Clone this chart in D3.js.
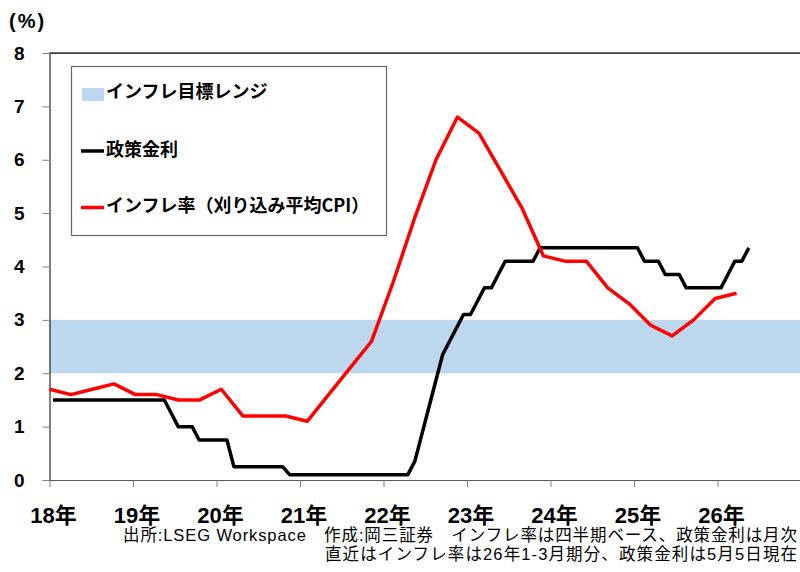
<!DOCTYPE html>
<html>
  <head>
    <meta charset="utf-8">
    <title>政策金利とインフレ率</title>
    <script src="https://d3js.org/d3.v7.min.js"></script>
    <style>
      body { margin: 0; background: #fff; }
      svg { display: block; }
      .num { font-family: "Liberation Sans", Arial, sans-serif; font-weight: bold; }
      .jp { font-family: "Liberation Sans", "Noto Sans CJK JP", sans-serif; }
    </style>
  </head>
  <body>
    <script>
      var width = 800;
      var height = 572;
      var margin = {top: 53, left: 49.5, right: -1, bottom: 92};

      // 四半期 (2018Q1 - 2026Q4) と 月次 (2018/1 - 2026/12) のカテゴリ
      var years = [2018, 2019, 2020, 2021, 2022, 2023, 2024, 2025, 2026];
      var quarters = [];
      var months = [];
      years.forEach(function(y) {
        [1, 2, 3, 4].forEach(function(q) { quarters.push(y + "Q" + q); });
        d3.range(1, 13).forEach(function(m) { months.push(y + "-" + m); });
      });

      // インフレ率（刈り込み平均CPI, 前年比 %）2018Q1 - 2026Q1
      var inflation = [1.7, 1.6, 1.7, 1.8, 1.6, 1.6, 1.5, 1.5,
                       1.7, 1.2, 1.2, 1.2, 1.1, 1.6, 2.1, 2.6,
                       3.7, 4.9, 6.0, 6.8, 6.5, 5.8, 5.1, 4.2,
                       4.1, 4.1, 3.6, 3.3, 2.9, 2.7, 3.0, 3.4,
                       3.5];

      // 政策金利 (%) 2018/1 - 2026/5
      var policyRate = [1.5, 1.5, 1.5, 1.5, 1.5, 1.5, 1.5, 1.5, 1.5, 1.5, 1.5, 1.5,
                        1.5, 1.5, 1.5, 1.5, 1.5, 1.25, 1.0, 1.0, 1.0, 0.75, 0.75, 0.75,
                        0.75, 0.75, 0.25, 0.25, 0.25, 0.25, 0.25, 0.25, 0.25, 0.25, 0.1, 0.1,
                        0.1, 0.1, 0.1, 0.1, 0.1, 0.1, 0.1, 0.1, 0.1, 0.1, 0.1, 0.1,
                        0.1, 0.1, 0.1, 0.1, 0.35, 0.85, 1.35, 1.85, 2.35, 2.6, 2.85, 3.1,
                        3.1, 3.35, 3.6, 3.6, 3.85, 4.1, 4.1, 4.1, 4.1, 4.1, 4.35, 4.35,
                        4.35, 4.35, 4.35, 4.35, 4.35, 4.35, 4.35, 4.35, 4.35, 4.35, 4.35, 4.35,
                        4.35, 4.1, 4.1, 4.1, 3.85, 3.85, 3.85, 3.6, 3.6, 3.6, 3.6, 3.6,
                        3.6, 3.85, 4.1, 4.1, 4.35];

      var targetRange = [2, 3];
      var yTicks = [0, 1, 2, 3, 4, 5, 6, 7, 8];

      var legendItems = ["インフレ目標レンジ", "政策金利", "インフレ率（刈り込み平均CPI）"];
      var notes = ["出所:LSEG Workspace　作成:岡三証券　インフレ率は四半期ベース、政策金利は月次",
                   "直近はインフレ率は26年1-3月期分、政策金利は5月5日現在"];
      var noteWidths = [674, 472];

      var svg = d3.select("body")
        .append("svg")
        .attr("width", width)
        .attr("height", height);

      var x0 = margin.left, x1 = width - margin.right;

      var xMonth = d3.scaleBand()
        .domain(months)
        .range([x0, x1]);

      var xQuarter = d3.scalePoint()
        .domain(quarters)
        .range([x0, x1]);

      var xYear = d3.scaleLinear()
        .domain([2018, 2027])
        .range([x0, x1]);

      var yScale = d3.scaleLinear()
        .domain([0, 8])
        .range([height - margin.bottom, margin.top]);

      // 目標レンジ
      svg.append("rect")
        .attr("x", x0)
        .attr("y", yScale(targetRange[1]))
        .attr("width", x1 - x0)
        .attr("height", yScale(targetRange[0]) - yScale(targetRange[1]))
        .attr("fill", "#BDD7EE");

      // 上枠
      svg.append("line")
        .attr("x1", x0).attr("x2", width)
        .attr("y1", yScale(8)).attr("y2", yScale(8))
        .attr("stroke", "#404040")
        .attr("stroke-width", 1.75);

      // x軸
      var xAxis = svg.append("g")
        .attr("transform", `translate(0,${height - margin.bottom})`)
        .call(d3.axisBottom(xYear)
          .tickValues(years)
          .tickSize(7)
          .tickSizeOuter(0)
          .tickFormat(function(d) { return String(d).slice(2) + "年"; }));
      xAxis.select(".domain").attr("stroke", "#595959");
      xAxis.selectAll(".tick line").attr("stroke", "#808080");
      xAxis.selectAll(".tick text")
        .attr("class", "jp")
        .attr("x", xMonth.bandwidth() / 2)
        .attr("y", 43)
        .attr("dy", 0)
        .attr("fill", "#000")
        .style("font-size", "22px")
        .style("font-weight", "bold");

      // y軸
      var yAxis = svg.append("g")
        .attr("transform", `translate(${x0},0)`)
        .call(d3.axisLeft(yScale)
          .tickValues(yTicks)
          .tickSize(7)
          .tickSizeOuter(0)
          .tickPadding(18));
      yAxis.select(".domain").attr("stroke", "#000");
      yAxis.selectAll(".tick line").attr("stroke", "#808080");
      yAxis.selectAll(".tick text")
        .attr("class", "num")
        .attr("fill", "#000")
        .style("font-size", "19px");

      svg.append("text")
        .attr("class", "num")
        .attr("x", 9)
        .attr("y", 28)
        .style("font-size", "20px")
        .style("letter-spacing", "2px")
        .text("(%)");

      // 線
      var rateLine = d3.line()
        .x(function(d, i) { return xMonth(months[i]) + xMonth.bandwidth() / 2; })
        .y(function(d) { return yScale(d); });

      var inflLine = d3.line()
        .x(function(d, i) { return xQuarter(quarters[i]); })
        .y(function(d) { return yScale(d); });

      svg.append("path")
        .datum(policyRate)
        .attr("d", rateLine)
        .attr("fill", "none")
        .attr("stroke", "#000")
        .attr("stroke-width", 3.5)
        .attr("stroke-linejoin", "round");

      svg.append("path")
        .datum(inflation)
        .attr("d", inflLine)
        .attr("fill", "none")
        .attr("stroke", "#FF0000")
        .attr("stroke-width", 3.5)
        .attr("stroke-linejoin", "round");

      // 凡例
      var legend = svg.append("g");
      legend.append("rect")
        .attr("x", 71.5).attr("y", 66.5)
        .attr("width", 315).attr("height", 169)
        .attr("fill", "#fff")
        .attr("stroke", "#666")
        .attr("stroke-width", 1.2);

      var legendY = [92, 150, 206];
      legend.append("rect")
        .attr("x", 82).attr("y", legendY[0] - 4)
        .attr("width", 22).attr("height", 13)
        .attr("fill", "#BDD7EE");
      legend.append("line")
        .attr("x1", 81).attr("x2", 104)
        .attr("y1", legendY[1] + 1).attr("y2", legendY[1] + 1)
        .attr("stroke", "#000").attr("stroke-width", 3.5);
      legend.append("line")
        .attr("x1", 81).attr("x2", 104)
        .attr("y1", legendY[2] + 1.5).attr("y2", legendY[2] + 1.5)
        .attr("stroke", "#FF0000").attr("stroke-width", 3.5);

      legend.selectAll("text.leg")
        .data(legendItems)
        .enter()
        .append("text")
          .attr("class", "leg")
          .attr("x", 106)
          .attr("y", function(d, i) { return legendY[i]; })
          .attr("dy", "0.35em")
          .style("font-family", "'Noto Sans CJK JP', sans-serif")
          .style("font-weight", "bold")
          .style("font-size", "18px")
          .text(function(d) { return d; });

      // 注記
      svg.selectAll("text.note")
        .data(notes)
        .enter()
        .append("text")
          .attr("class", "note jp")
          .attr("x", 797)
          .attr("y", function(d, i) { return 541 + i * 19; })
          .attr("text-anchor", "end")
          .attr("textLength", function(d, i) { return noteWidths[i]; })
          .attr("lengthAdjust", "spacing")
          .style("font-size", "16.5px")
          .text(function(d) { return d; });
    </script>
  </body>
</html>
